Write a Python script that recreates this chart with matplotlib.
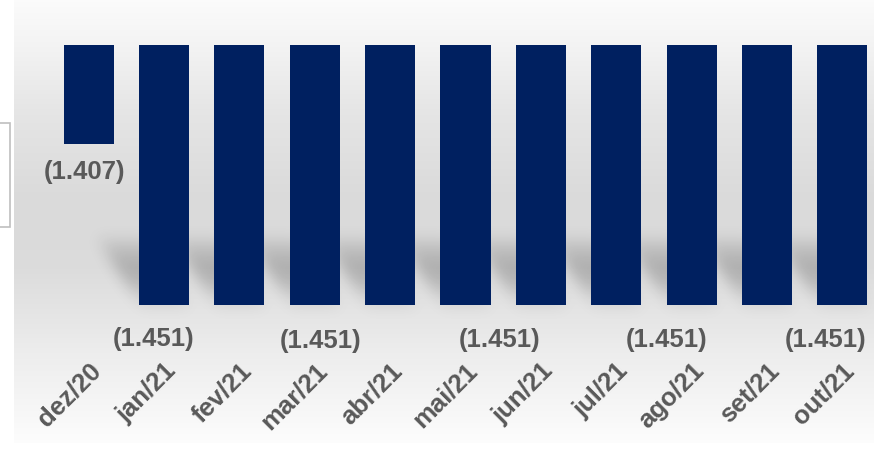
import matplotlib
matplotlib.use("Agg")
import matplotlib.pyplot as plt
import matplotlib.transforms as mtrans
import numpy as np
from matplotlib.patches import Rectangle

plt.rcParams['font.family'] = ['Liberation Sans', 'DejaVu Sans']

meses = ["dez/20", "jan/21", "fev/21", "mar/21", "abr/21", "mai/21",
         "jun/21", "jul/21", "ago/21", "set/21", "out/21"]
valores = [-1407, -1451, -1451, -1451, -1451, -1451,
           -1451, -1451, -1451, -1451, -1451]
# quais barras mostram rotulo, com deslocamento manual (pixels)
rot_idx = [0, 1, 3, 5, 8, 10]
rot_dx = [-4, -10, 6, 34, -25, -17]
rot_dy = [-28, -34, -36, -35, -35, -35]
sombra = [False] + [True] * 10

W, H = 874, 449
fig = plt.figure(figsize=(W / 100, H / 100), dpi=100)

# fundo em degrade
bg = fig.add_axes([14 / W, 1 - 443 / H, 860 / W, 443 / H])
yy = np.linspace(0, 1, 400)
tons = np.interp(yy, [0, 0.1, 0.25, 0.45, 0.6, 0.8, 1.0],
                 [0.985, 0.955, 0.90, 0.855, 0.86, 0.93, 0.99])
grad = np.repeat(tons[:, None], 2, axis=1)
bg.imshow(np.dstack([grad] * 3), aspect='auto', extent=[0, 1, 0, 1],
          origin='upper', interpolation='bilinear')
bg.axis('off')

# caixa cortada a esquerda
fig.patches.append(Rectangle((-5 / W, 1 - 227 / H), 15 / W, 104 / H,
                             transform=fig.transFigure, facecolor='white',
                             edgecolor='#bfbfbf', linewidth=1.2))

AW, AH = 829, 315
ax = fig.add_axes([51 / W, 1 - 360 / H, AW / W, AH / H])
ax.set_facecolor('none')
x = np.arange(len(meses))
ymin, ymax = -1466, -1380
ax.set_xlim(-0.5, 10.5)
ax.set_ylim(ymin, ymax)
largura = 0.665

# sombras em perspectiva, desfocadas
mask = np.zeros((AH, AW))
cols = np.arange(AW)
for i, v in enumerate(valores):
    if not sombra[i]:
        continue
    xl = (x[i] - largura / 2 + 0.5) / 11 * AW
    xr = (x[i] + largura / 2 + 0.5) / 11 * AW
    b = int(round((ymax - v) / (ymax - ymin) * AH))
    h = 72
    for r in range(b - h, min(b + 4, AH)):
        t = np.clip((b - r) / h, 0, 1)
        s = 46 * t
        ok = (cols >= xl - s) & (cols <= xr - s)
        val = max(np.sin(np.pi * t), 0.3 if r >= b else 0)
        mask[r, ok] = np.maximum(mask[r, ok], val)
sig = 7.0
k = np.exp(-0.5 * (np.arange(-21, 22) / sig) ** 2)
k /= k.sum()
mask = np.apply_along_axis(lambda c: np.convolve(c, k, mode='same'), 0, mask)
mask = np.apply_along_axis(lambda c: np.convolve(c, k, mode='same'), 1, mask)
rgba = np.zeros((AH, AW, 4))
rgba[..., 3] = mask * 0.2
ax.imshow(rgba, extent=[-0.5, 10.5, ymin, ymax], aspect='auto',
          origin='upper', zorder=1, interpolation='bilinear')

ax.bar(x, valores, width=largura, color='#002060', zorder=3)

for j, i in enumerate(rot_idx):
    v = valores[i]
    ax.annotate("(" + f"{abs(v):,.0f}".replace(",", ".") + ")",
                xy=(x[i], v), xytext=(rot_dx[j], rot_dy[j]),
                textcoords='offset pixels', ha='center', va='center',
                fontsize=18.5, fontweight='bold', color='#595959',
                annotation_clip=False, zorder=4)

ax.set_xticks(x)
ax.set_xticklabels(meses, rotation=45, ha='right', va='top',
                   rotation_mode='anchor', fontsize=18.5, fontweight='bold',
                   color='#595959')
desloc = mtrans.ScaledTranslation(-6 / 100, 0, fig.dpi_scale_trans)
for lb in ax.get_xticklabels():
    lb.set_transform(lb.get_transform() + desloc)
ax.tick_params(axis='x', length=0, pad=-1)
ax.set_yticks([])
for sp in ax.spines.values():
    sp.set_visible(False)

fig.savefig("out.png", dpi=100)
